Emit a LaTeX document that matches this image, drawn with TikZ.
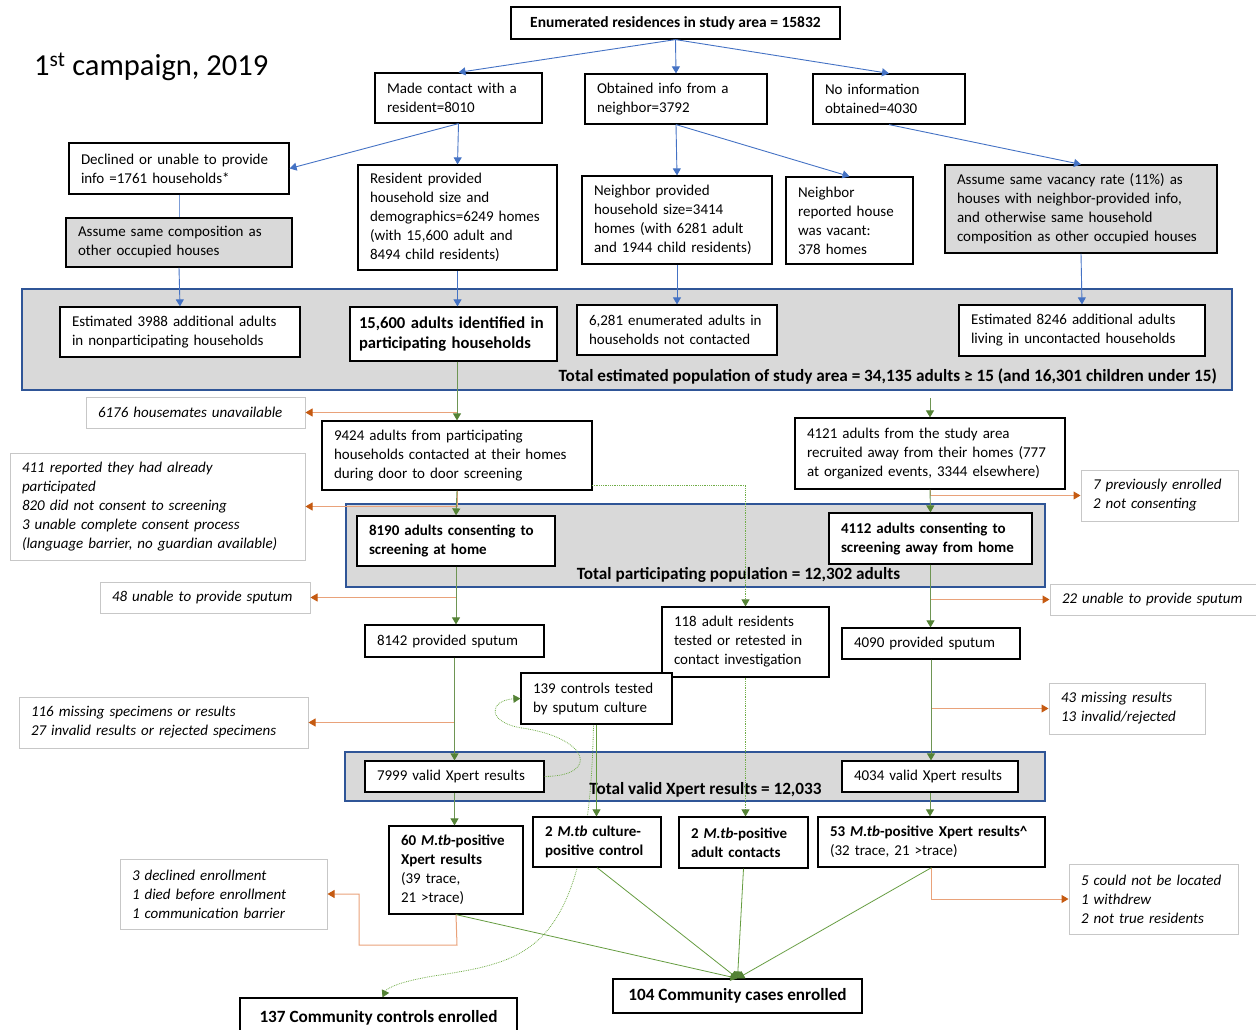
\documentclass[tikz,border=0pt]{standalone}
\usepackage{fontspec}
\setmainfont{Carlito}
\usetikzlibrary{arrows.meta,calc}
\definecolor{blu}{HTML}{4472C4}
\definecolor{cbord}{HTML}{2F5597}
\definecolor{gfill}{HTML}{D9D9D9}
\definecolor{grn}{HTML}{548235}
\definecolor{lgrn}{HTML}{70AD47}
\definecolor{orl}{HTML}{E9A27A}
\definecolor{ord}{HTML}{C55A11}
\newcommand\myfs{\fontsize{15}{19}\selectfont}
\pgfdeclarelayer{back}
\pgfdeclarelayer{mid}
\pgfsetlayers{back,mid,main}
\begin{document}
\begin{tikzpicture}[x=1pt,y=-1pt,
  bx/.style={draw=black, line width=1.2pt, fill=white, inner xsep=12pt, inner ysep=0pt, align=left, font=\myfs},
  gbx/.style={bx, fill=gfill},
  ibx/.style={draw=black!22, line width=1pt, fill=white, inner xsep=12pt, inner ysep=0pt, align=left, font=\myfs\itshape},
  cont/.style={draw=cbord, line width=1.5pt, fill=gfill, inner sep=0pt},
  lab/.style={font=\fontsize{17.2}{20}\selectfont\bfseries, inner sep=0pt},
  big/.style={bx, font=\fontsize{17.2}{20}\selectfont\bfseries, align=center},
  barr/.style={draw=blu, line width=0.9pt, -{Triangle[length=7pt,width=8pt]}},
  bline/.style={draw=blu!70, line width=0.8pt},
  garr/.style={draw=grn!85, line width=0.9pt, -{Triangle[length=7pt,width=8pt,color=grn]}},
  lgarr/.style={draw=lgrn!90!black, line width=0.8pt, -{Triangle[length=7pt,width=8pt,color=grn]}},
  oarr/.style={draw=orl, line width=1pt, -{Triangle[length=7pt,width=8pt,color=ord]}},
  dgarr/.style={draw=lgrn, densely dotted, line width=0.8pt, -{Triangle[length=7pt,width=8pt,color=grn]}}
]
\useasboundingbox (0,0) rectangle (1256,1030);

% containers
\begin{pgfonlayer}{back}
\node[cont, minimum width=1210, minimum height=101] (c1) at (627,339.5) {};
\node[cont, minimum width=699, minimum height=83] (c2) at (695.5,545.5) {};
\node[cont, minimum width=700, minimum height=49] (c3) at (695,776.5) {};
\end{pgfonlayer}
\node[lab, anchor=east] (l1) at (1217,376) {Total estimated population of study area = 34,135 adults ≥ 15 (and 16,301 children under 15)};
\node[lab] (l2) at (738.5,575) {Total participating population = 12,302 adults};
\node[lab] (l3) at (705.5,790) {Total valid Xpert results = 12,033};

% title
\node[anchor=west, font=\fontsize{30.5}{34}\selectfont, inner sep=0pt] (title) at (34,67) {1\textsuperscript{st} campaign, 2019};

% top level
\node[bx, align=center, font=\fontsize{15.5}{19}\selectfont\bfseries, minimum width=329, minimum height=32] (n1) at (675.5,23) {Enumerated residences in study area = 15832};
\node[bx, minimum height=50, text width=143] (n2) at (458.5,98) {Made contact with a\\resident=8010};
\node[bx, minimum height=50, text width=158] (n3) at (676,99) {Obtained info from a\\neighbor=3792};
\node[bx, minimum height=50, text width=128] (n4) at (889,99) {No information\\obtained=4030};
\node[bx, minimum height=51, text width=196] (n5) at (179,168.5) {Declined or unable to provide\\info =1761 households*};
\node[gbx, minimum height=49, text width=202] (n6) at (179,242.5) {Assume same composition as\\other occupied houses};
\node[bx, minimum height=105, text width=175] (n7) at (457.5,217.5) {Resident provided\\household size and\\demographics=6249 homes\\(with 15,600 adult and\\8494 child residents)};
\node[bx, minimum height=88, text width=166] (n8) at (677,220) {Neighbor provided\\household size=3414\\homes (with 6281 adult\\and 1944 child residents)};
\node[bx, minimum height=87, text width=103] (n9) at (849.5,220.5) {Neighbor\\reported house\\was vacant:\\378 homes};
\node[gbx, minimum height=88, text width=248] (n10) at (1081,209) {Assume same vacancy rate (11\%) as\\houses with neighbor-provided info,\\and otherwise same household\\composition as other occupied houses};

% inside container 1
\node[bx, minimum height=50, text width=216] (n11) at (180,332) {Estimated 3988 additional adults\\in nonparticipating households};
\node[bx, minimum height=54, text width=189, inner xsep=9pt, font=\fontsize{16.6}{20}\selectfont\bfseries] (n12) at (453.5,334) {15,600 adults identified in\\participating households};
\node[bx, minimum height=50, text width=176] (n13) at (677,330) {6,281 enumerated adults in\\households not contacted};
\node[bx, minimum height=51, text width=222] (n14) at (1082,330.5) {Estimated 8246 additional adults\\living in uncontacted households};

% screening level
\node[ibx, minimum height=31, text width=195] (n15) at (195.5,412.5) {6176 housemates unavailable};
\node[bx, minimum height=69, text width=246] (n16) at (457,455.5) {9424 adults from participating\\households contacted at their homes\\during door to door screening};
\node[bx, minimum height=71, text width=246] (n17) at (930,453.5) {4121 adults from the study area\\recruited away from their homes (777\\at organized events, 3344 elsewhere)};
\node[ibx, minimum height=107, text width=271] (n18) at (157.5,506.5) {411 reported they had already\\participated\\820 did not consent to screening\\3 unable complete consent process\\(language barrier, no guardian available)};
\node[ibx, minimum height=51, text width=133] (n19) at (1159.5,495.5) {7 previously enrolled\\2 not consenting};
\node[bx, minimum height=50, text width=174, font=\myfs\bfseries] (n20) at (456,541) {8190 adults consenting to\\screening at home};
\node[bx, minimum height=51, text width=179, font=\myfs\bfseries] (n21) at (930.5,538.5) {4112 adults consenting to\\screening away from home};

% sputum level
\node[ibx, minimum height=31, text width=186] (n22) at (205,597.5) {48 unable to provide sputum};
\node[ibx, minimum height=31, text width=186] (n23) at (1155,599.5) {22 unable to provide sputum};
\node[bx, minimum height=32, text width=155] (n24) at (454.5,641) {8142 provided sputum};
\node[bx, minimum height=70, text width=143] (n25) at (745.5,642) {118 adult residents\\tested or retested in\\contact investigation};
\node[bx, minimum height=31, text width=154] (n26) at (931,643.5) {4090 provided sputum};
\node[bx, minimum height=51, text width=127] (n27) at (596.5,698.5) {139 controls tested\\by sputum culture};
\node[ibx, minimum height=51, text width=265] (n28) at (163.5,722.5) {116 missing specimens or results\\27 invalid results or rejected specimens};
\node[ibx, minimum height=51, text width=132] (n29) at (1127,708.5) {43 missing results\\13 invalid/rejected};

% Xpert level
\node[bx, minimum height=31, text width=155] (n30) at (454.5,776.5) {7999 valid Xpert results};
\node[bx, minimum height=31, text width=152] (n31) at (930,776.5) {4034 valid Xpert results};

% positives
\node[bx, minimum height=88, text width=110] (n32) at (456,870) {\textbf{60 \textit{M.tb}-positive}\\\textbf{Xpert results}\\(39 trace,\\21 >trace)};
\node[bx, minimum height=50, text width=104, font=\myfs\bfseries] (n33) at (597,842) {2 \textit{M.tb} culture-\\positive control};
\node[bx, minimum height=51, text width=105, font=\myfs\bfseries] (n34) at (743.5,842.5) {2 \textit{M.tb}-positive\\adult contacts};
\node[bx, minimum height=50, text width=203] (n35) at (931.5,842) {\textbf{53 \textit{M.tb}-positive Xpert results\^{}}\\(32 trace, 21 >trace)};
\node[ibx, minimum height=70, text width=183] (n36) at (223.5,894) {3 declined enrollment\\1 died before enrollment\\1 communication barrier};
\node[ibx, minimum height=70, text width=145] (n37) at (1153.5,899) {5 could not be located\\1 withdrew\\2 not true residents};

% enrolled
\node[big, minimum width=249, minimum height=34] (n38) at (737.5,996) {104 Community cases enrolled};
\node[big, minimum width=277, minimum height=40] (n39) at (378.5,1018) {137 Community controls enrolled};

% ---------- blue connectors
\draw[barr] (n1.south) -- (n2.north);
\draw[barr] (n1.south) -- (n3.north);
\draw[barr] (n1.south) -- (n4.north);
\draw[barr] (n2.south) -- (n5.east);
\draw[barr] (n2.south) -- (n7.north);
\draw[barr] (n3.south) -- (n8.north);
\draw[barr] (n3.south) -- (n9.north);
\draw[barr] (n4.south) -- (n10.north);
\draw[bline] (n5.south) -- (n6.north);
\draw[barr] (n6.south) -- (n11.north);
\draw[barr] (n7.south) -- (n7.south |- n12.north);
\draw[barr] (n8.south) -- (n13.north);
\draw[barr] (n10.south) -- (n14.north);

% ---------- orange branches
\draw[oarr] (n16.north |- n12.south) |- (n15.east);
\draw[oarr] (n16.south) |- (n18.east);
\draw[oarr] (n17.south) |- (n19.west);
\draw[oarr] (n20.south) |- (n22.east);
\draw[oarr] (n21.south) |- (n23.west);
\draw[oarr] (n24.south) |- (n28.east);
\draw[oarr] (n26.south) |- (n29.west);
\coordinate (o1) at (457,945);
\coordinate (o2) at (359,945);
\draw[oarr] (n32.south) -- (o1) -- (o2) |- (n36.east);
\draw[oarr] (n35.south) |- (n37.west);

% ---------- green stems
\draw[garr] (n16.north |- n12.south) -- (n16.north);
\coordinate (g0) at (930,398);
\draw[garr] (g0) -- (n17.north);
\draw[garr] (n16.south) -- (n20.north);
\draw[garr] (n17.south) -- (n21.north);
\draw[garr] (n20.south) -- (n20.south |- n24.north);
\draw[garr] (n21.south) -- (n21.south |- n26.north);
\draw[garr] (n24.south) -- (n30.north);
\draw[garr] (n26.south) -- (n26.south |- n31.north);
\draw[garr] (n30.south) -- (n30.south |- n32.north);
\draw[garr] (n31.south) -- (n31.south |- n35.north);
\draw[lgarr] (n27.south) -- (n27.south |- n33.north);

% dotted connectors
\coordinate (d1) at (592,485);
\draw[dgarr] (d1) -| (n25.north);
\draw[dgarr] (n25.south) -- (n25.south |- n34.north);
\draw[dgarr] (n30.east) .. controls (600,776) and (590,738) .. (522,728) .. controls (485,722) and (490,700) .. (n27.west);
\begin{pgfonlayer}{mid}
\draw[dgarr] ($(n27.south)+(-3,0)$) .. controls (592,800) and (585,850) .. (570,890) .. controls (545,955) and (505,965) .. (440,975) .. controls (400,981) and (387,988) .. ($(n39.north)+(4,0)$);
\end{pgfonlayer}

% to cases enrolled
\draw[lgarr] (n32.south) -- (n38.north);
\draw[lgarr] (n33.south) -- (n38.north);
\draw[lgarr] (n34.south) -- (n38.north);
\draw[lgarr] (n35.south) -- (n38.north);
\end{tikzpicture}
\end{document}
